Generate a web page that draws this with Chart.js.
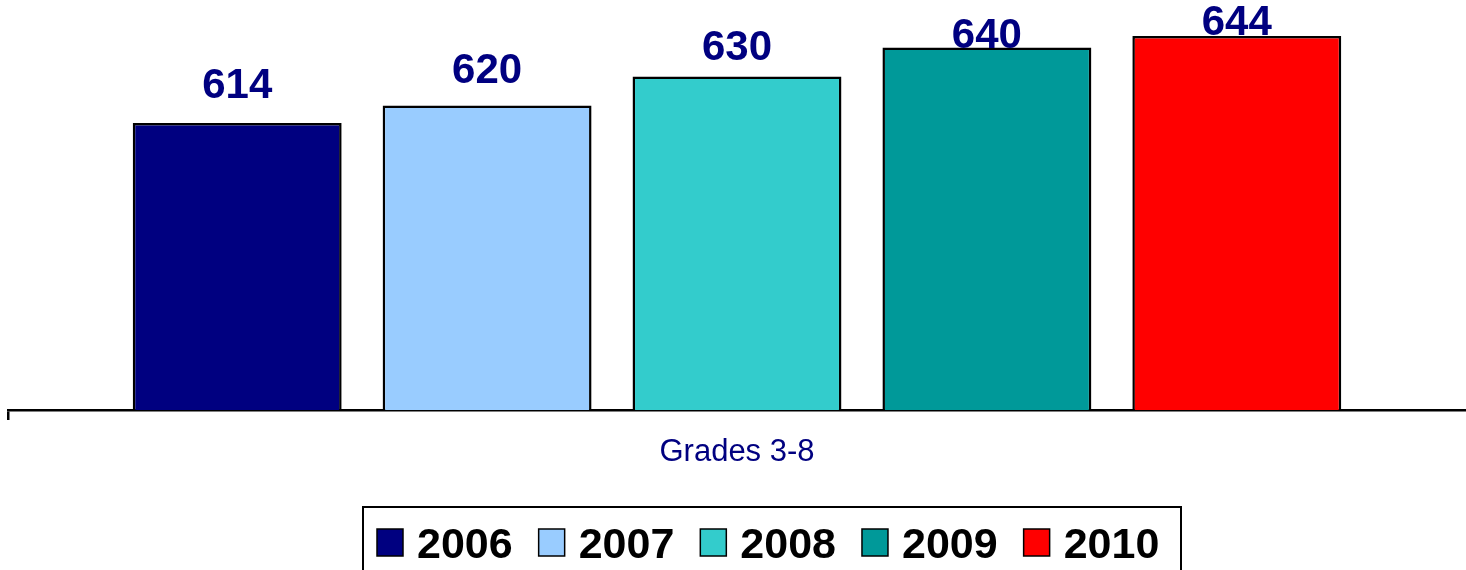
<!DOCTYPE html>
<html>
<head>
<meta charset="utf-8">
<script src="https://cdn.jsdelivr.net/npm/chart.js@4.4.0/dist/chart.umd.min.js"></script>
<style>
  html, body { margin: 0; padding: 0; background: #fff; }
  #wrap { width: 1466px; height: 570px; }
</style>
</head>
<body>
<div id="wrap"><canvas id="c" width="1466" height="570"></canvas></div>
<script>
const categories = ["Grades 3-8"];
const years = ["2006", "2007", "2008", "2009", "2010"];
const scores = [614, 620, 630, 640, 644];
const colors = ["#000080", "#99CCFF", "#33CCCC", "#009999", "#FF0000"];

const FONT = "'Liberation Sans', Arial, sans-serif";

const datasets = years.map((y, i) => ({
  label: y,
  data: [scores[i]],
  backgroundColor: colors[i],
  borderColor: "#000",
  borderWidth: 2.5,
  borderSkipped: false,
  categoryPercentage: 0.857,
  barPercentage: 0.836
}));

const valueLabels = {
  id: "valueLabels",
  afterDatasetsDraw(chart, args, opts) {
    const ctx = chart.ctx;
    ctx.save();
    ctx.font = "bold 42px " + FONT;
    ctx.fillStyle = "#000080";
    ctx.textAlign = "center";
    ctx.textBaseline = "alphabetic";
    chart.data.datasets.forEach((ds, i) => {
      const meta = chart.getDatasetMeta(i);
      meta.data.forEach((bar, j) => {
        const off = opts.offsets[i] ?? 24;
        ctx.fillText(String(ds.data[j]), bar.x, bar.y - off);
      });
    });
    ctx.restore();
  }
};

const boxedLegend = {
  id: "boxedLegend",
  afterDraw(chart, args, opts) {
    const ctx = chart.ctx;
    ctx.save();
    ctx.strokeStyle = "#000";
    ctx.lineWidth = 2;
    ctx.strokeRect(opts.left, opts.top, opts.right - opts.left, 100);
    ctx.font = "bold 43px " + FONT;
    ctx.textBaseline = "alphabetic";
    ctx.textAlign = "left";
    let x = opts.startX;
    chart.data.datasets.forEach((ds) => {
      ctx.fillStyle = ds.backgroundColor;
      ctx.fillRect(x, opts.boxY, 26, 27);
      ctx.lineWidth = 1.5;
      ctx.strokeStyle = "#000";
      ctx.strokeRect(x, opts.boxY, 26, 27);
      ctx.fillStyle = "#000";
      const tx = x + 40;
      ctx.fillText(ds.label, tx, opts.baseline);
      const tw = ctx.measureText(ds.label).width;
      x = tx + tw + 26;
    });
    ctx.restore();
  }
};

new Chart(document.getElementById("c"), {
  type: "bar",
  data: { labels: categories, datasets },
  options: {
    responsive: false,
    animation: false,
    layout: { padding: { top: 7, left: 8, right: 0, bottom: 0 } },
    plugins: {
      legend: { display: false },
      tooltip: { enabled: false },
      valueLabels: { offsets: [25, 23, 17, 0, 1] },
      boxedLegend: { left: 363, right: 1181, top: 507, startX: 377, boxY: 529, baseline: 558 }
    },
    scales: {
      y: {
        display: false,
        min: 515,
        max: 654
      },
      x: {
        offset: true,
        border: { display: true, color: "#000", width: 2.5 },
        grid: {
          display: true, drawOnChartArea: false, drawTicks: true, tickLength: 10,
          color: (c) => (c.index === 0 ? "#000" : "rgba(0,0,0,0)"),
          lineWidth: 2.5, offset: true
        },
        ticks: { color: "#000080", font: { family: FONT, size: 31 }, padding: 14 },
        afterFit(scale) { scale.height = 160; }
      }
    }
  },
  plugins: [valueLabels, boxedLegend]
});
</script>
</body>
</html>
